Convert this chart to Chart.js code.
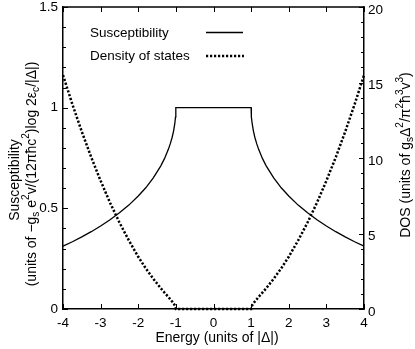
<!DOCTYPE html>
<html>
<head>
<meta charset="utf-8">
<script src="https://cdn.jsdelivr.net/npm/chart.js@4/dist/chart.umd.min.js"></script>
<style>
html,body{margin:0;padding:0;background:#fff;}
#wrap{width:415px;height:349px;}
</style>
</head>
<body>
<div id="wrap"><canvas id="c" width="415" height="349"></canvas></div>
<script>
// ---- data ----
const energy = [-4,-3.75,-3.5,-3.25,-3,-2.75,-2.5,-2.25,-2,-1.8,-1.6,-1.4,-1.3,-1.2,-1.15,-1.1,-1.06,-1.03,-1.01,-1.003,-1,0,1,1.003,1.01,1.03,1.06,1.1,1.15,1.2,1.3,1.4,1.6,1.8,2,2.25,2.5,2.75,3,3.25,3.5,3.75,4];
const susceptibility = [0.312,0.334,0.358,0.384,0.412,0.443,0.478,0.516,0.561,0.602,0.651,0.711,0.748,0.793,0.820,0.852,0.885,0.919,0.953,0.974,1,1,1,0.974,0.953,0.919,0.885,0.852,0.820,0.793,0.748,0.711,0.651,0.602,0.561,0.516,0.478,0.443,0.412,0.384,0.358,0.334,0.312];
const densityOfStates = [15.49,13.55,11.74,10.05,8.49,7.04,5.73,4.54,3.46,2.69,2.00,1.37,1.08,0.80,0.65,0.50,0.37,0.25,0.14,0.08,0,0,0,0.08,0.14,0.25,0.37,0.50,0.65,0.80,1.08,1.37,2.00,2.69,3.46,4.54,5.73,7.04,8.49,10.05,11.74,13.55,15.49];
const seriesNames = ["Susceptibility", "Density of states"];
const xTickValues = [-4,-3,-2,-1,0,1,2,3,4];
const leftTickValues = [0,0.5,1,1.5];
const rightTickValues = [0,5,10,15,20];

const FONT = '"Liberation Sans", Arial, Helvetica, sans-serif';
const DOT_DASH = [2.2, 1.8];

function pts(ys){ return energy.map((x,i)=>({x:x, y:ys[i]})); }

function drawRich(ctx, segs, cx, cy, size, rotated){
  const small = size*0.72;
  ctx.save();
  ctx.translate(cx, cy);
  if (rotated) ctx.rotate(-Math.PI/2);
  ctx.textBaseline = 'middle';
  ctx.textAlign = 'left';
  ctx.fillStyle = '#000';
  let w = 0;
  segs.forEach(s=>{ ctx.font = (s[1]==='n'?size:small)+'px '+FONT; w += ctx.measureText(s[0]).width; });
  let x = -w/2;
  segs.forEach(s=>{
    const sz = s[1]==='n'?size:small;
    ctx.font = sz+'px '+FONT;
    let dy = 0;
    if (s[1]==='sub') dy = size*0.28;
    if (s[1]==='sup') dy = -size*0.38;
    ctx.fillText(s[0], x, dy);
    x += ctx.measureText(s[0]).width;
  });
  ctx.restore();
}

const decor = {
  id:'decor',
  afterDraw(chart){
    const ctx = chart.ctx;
    const a = chart.chartArea;
    const xs = chart.scales.x, yl = chart.scales.y, yr = chart.scales.y2;
    ctx.save();
    ctx.strokeStyle = '#000';
    ctx.lineWidth = 1;
    ctx.setLineDash([]);
    ctx.beginPath();
    xTickValues.forEach(v=>{
      const p = Math.round(xs.getPixelForValue(v))+0.5;
      ctx.moveTo(p, a.bottom); ctx.lineTo(p, a.bottom-5);
      ctx.moveTo(p, a.top); ctx.lineTo(p, a.top+5);
    });
    for (let k=0;k<=15;k++){
      const p = Math.round(yl.getPixelForValue(k/10))+0.5;
      const len = (k%5===0)?5:3;
      ctx.moveTo(a.left, p); ctx.lineTo(a.left+len, p);
    }
    for (let k=0;k<=20;k++){
      const p = Math.round(yr.getPixelForValue(k))+0.5;
      const len = (k%5===0)?5:3;
      ctx.moveTo(a.right, p); ctx.lineTo(a.right-len, p);
    }
    ctx.stroke();
    ctx.lineWidth = 1.5;
    ctx.beginPath();
    ctx.moveTo(a.left-0.75, a.top); ctx.lineTo(a.right+0.75, a.top);
    ctx.stroke();

    // legend
    ctx.font = '13.5px '+FONT;
    ctx.fillStyle = '#000';
    ctx.textBaseline = 'middle';
    ctx.textAlign = 'left';
    ctx.fillText(seriesNames[0], 90, 33);
    ctx.fillText(seriesNames[1], 90, 56);
    ctx.lineWidth = 1.3;
    ctx.beginPath(); ctx.moveTo(206, 32.5); ctx.lineTo(243, 32.5); ctx.stroke();
    ctx.lineWidth = 2.5;
    ctx.setLineDash(DOT_DASH);
    ctx.beginPath(); ctx.moveTo(206, 56); ctx.lineTo(244, 56); ctx.stroke();
    ctx.setLineDash([]);

    // axis titles
    drawRich(ctx, [["Energy (units of |Δ|)","n"]], 217, 338, 14, false);
    drawRich(ctx, [["Susceptibility","n"]], 15, 180, 14, true);
    drawRich(ctx, [["(units of −g","n"],["s","sub"],[" e","n"],["2","sup"],["v/(12πħc","n"],["2","sup"],[")log 2ε","n"],["c","sub"],["/|Δ|)","n"]], 32, 174, 14, true);
    drawRich(ctx, [["DOS (units of g","n"],["s","sub"],["Δ","n"],["2","sup"],["/π","n"],["2","sup"],["ħ","n"],["3","sup"],["v","n"],["3","sup"],[")","n"]], 406, 155, 14, true);
    ctx.restore();
  }
};

const tickFont = {family: FONT, size: 13.5};
const fmt = v => String(v);

new Chart(document.getElementById('c'), {
  type: 'line',
  data: {
    datasets: [
      {label: seriesNames[0], data: pts(susceptibility), yAxisID:'y', borderColor:'#000', borderWidth:1.3, pointRadius:0, tension:0, fill:false, clip:false},
      {label: seriesNames[1], data: pts(densityOfStates), yAxisID:'y2', borderColor:'#000', borderWidth:2.5, borderDash:DOT_DASH, pointRadius:0, tension:0, fill:false, clip:false}
    ]
  },
  options: {
    responsive:false,
    animation:false,
    devicePixelRatio:1,
    layout:{padding:{top:0,left:0,right:0,bottom:0}},
    plugins:{legend:{display:false}, tooltip:{enabled:false}},
    scales:{
      x:{type:'linear', min:-4, max:4, position:'bottom',
         afterBuildTicks(s){ s.ticks = xTickValues.map(v=>({value:v})); },
         afterFit(s){ s.height = 40; },
         grid:{display:true, drawOnChartArea:false, drawTicks:false},
         border:{display:true, color:'#000', width:1.5},
         ticks:{color:'#000', font:tickFont, padding:6, maxRotation:0, autoSkip:false, callback:fmt}},
      y:{type:'linear', min:0, max:1.5, position:'left',
         afterBuildTicks(s){ s.ticks = leftTickValues.map(v=>({value:v})); },
         afterFit(s){ s.width = 63; s.paddingTop = 7; },
         grid:{display:true, drawOnChartArea:false, drawTicks:false},
         border:{display:true, color:'#000', width:1.5},
         ticks:{color:'#000', font:tickFont, padding:5, autoSkip:false, callback:fmt}},
      y2:{type:'linear', min:0, max:20, position:'right',
         afterBuildTicks(s){ s.ticks = rightTickValues.map(v=>({value:v})); },
         afterFit(s){ s.width = 51; s.paddingTop = 7; },
         grid:{display:true, drawOnChartArea:false, drawTicks:false},
         border:{display:true, color:'#000', width:1.5},
         ticks:{color:'#000', font:tickFont, padding:4, autoSkip:false, labelOffset:3, callback:fmt}}
    }
  },
  plugins:[decor]
});
</script>
</body>
</html>
